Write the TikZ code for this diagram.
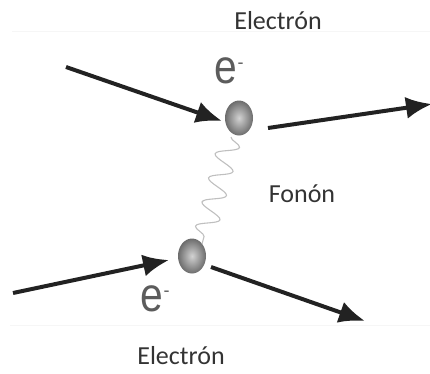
\documentclass[tikz,border=0pt]{standalone}
\usepackage{fontspec}
\setmainfont{Carlito}
\newfontfamily\efont{Liberation Sans}
\usetikzlibrary{arrows.meta,shapes.geometric,decorations.pathmorphing}
\definecolor{ink}{HTML}{222222}
\definecolor{txt}{HTML}{333333}
\newcommand{\eminus}{\scalebox{0.85}[1]{e}\hspace{0.5pt}\raisebox{15pt}{\fontsize{18}{18}\selectfont -}}
\tikzset{
  lbl/.style={font=\fontsize{26}{28}\selectfont, text=txt, inner sep=0pt},
  elab/.style={font=\efont\fontsize{48}{50}\selectfont, text=txt!80, inner sep=0pt},
  ballnode/.style={ellipse, minimum width=28pt, minimum height=35pt, inner sep=0pt,
    inner color=gray!35, outer color=gray!85!black},
  arr/.style={draw=ink, line width=4pt, -{Latex[length=26pt,width=22pt]}},
  wave/.style={draw=gray!50, line width=1.1pt, decorate,
    decoration={snake, segment length=25pt, amplitude=11pt}},
  faint/.style={draw=gray!7, line width=1pt}
}
\begin{document}
\begin{tikzpicture}[x=1pt,y=-1pt]
\useasboundingbox (0,0) rectangle (430,373);
\draw[faint] (12,31) -- (430,31);
\draw[faint] (10,325) -- (430,325);
\node[lbl] (etop) at (278,21) {Electrón};
\node[lbl] (ebot) at (181,356) {Electrón};
\node[lbl] (fonon) at (302,194) {Fonón};
\node[ballnode] (b1) at (239,118) {};
\node[ballnode] (b2) at (192,256) {};
\node[elab] (e1) at (229,71) {\eminus};
\node[elab] (e2) at (155,299) {\eminus};
\coordinate (in1) at (66,67);
\coordinate (o1s) at (268,128);
\coordinate (o1e) at (432,104);
\coordinate (in2) at (13,293);
\coordinate (o2s) at (211,267);
\coordinate (o2e) at (365,321);
\draw[arr] (in1) -- (222,121);
\draw[arr] (o1s) -- (o1e);
\draw[arr] (in2) -- (169,260);
\draw[arr] (o2s) -- (o2e);
\coordinate (w1) at (231,137);
\coordinate (w2) at (202,244);
\draw[wave] (w1) -- (w2);
\end{tikzpicture}
\end{document}
